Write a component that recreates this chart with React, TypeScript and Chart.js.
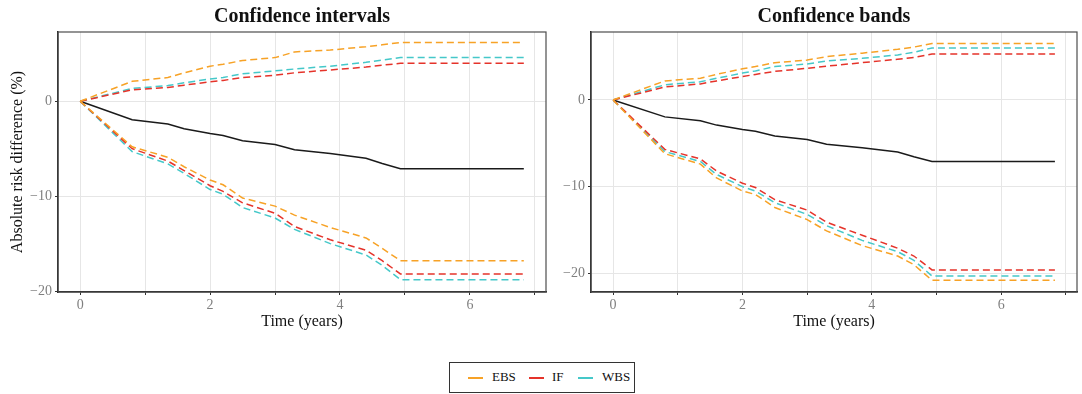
import React, { useEffect, useRef } from 'react';
import { Chart, registerables } from 'chart.js';

Chart.register(...registerables);

// ---- data ----
const times = [0, 0.8, 1.35, 1.6, 2.0, 2.2, 2.5, 3.0, 3.3, 3.85, 4.4, 4.65, 4.93, 6.83];
const estimate = [0, -1.95, -2.4, -2.9, -3.4, -3.6, -4.15, -4.55, -5.1, -5.5, -6.0, -6.55, -7.1, -7.1];

// Confidence intervals
const ciEbsUpper = [0, 2.1, 2.5, 3.0, 3.7, 3.9, 4.3, 4.6, 5.2, 5.4, 5.75, 5.95, 6.2, 6.2];
const ciWbsUpper = [0, 1.35, 1.65, 1.95, 2.35, 2.5, 2.9, 3.2, 3.4, 3.7, 4.1, 4.35, 4.6, 4.6];
const ciIfUpper = [0, 1.2, 1.45, 1.7, 2.05, 2.2, 2.5, 2.75, 3.0, 3.3, 3.6, 3.8, 4.0, 4.0];
const ciEbsLower = [0, -4.8, -5.9, -6.9, -8.3, -8.8, -10.2, -11.05, -12.0, -13.3, -14.4, -15.5, -16.8, -16.8];
const ciIfLower = [0, -5.0, -6.3, -7.3, -8.9, -9.5, -10.7, -11.8, -13.2, -14.6, -15.7, -16.8, -18.2, -18.2];
const ciWbsLower = [0, -5.3, -6.6, -7.6, -9.3, -9.8, -11.2, -12.3, -13.5, -15.0, -16.2, -17.3, -18.8, -18.8];

// Confidence bands
const cbEbsUpper = [0, 2.2, 2.5, 2.95, 3.6, 3.85, 4.3, 4.6, 5.0, 5.4, 5.85, 6.1, 6.5, 6.5];
const cbWbsUpper = [0, 1.75, 2.1, 2.5, 3.1, 3.35, 3.85, 4.15, 4.5, 4.8, 5.2, 5.5, 6.0, 6.0];
const cbIfUpper = [0, 1.5, 1.85, 2.2, 2.7, 2.95, 3.3, 3.65, 3.9, 4.3, 4.7, 4.9, 5.3, 5.3];
const cbIfLower = [0, -5.7, -6.8, -8.2, -9.6, -10.1, -11.5, -12.7, -14.1, -15.6, -17.1, -18.0, -19.6, -19.6];
const cbWbsLower = [0, -5.95, -7.1, -8.6, -10.0, -10.5, -11.85, -13.2, -14.5, -16.2, -17.5, -18.5, -20.3, -20.3];
const cbEbsLower = [0, -6.2, -7.4, -9.0, -10.5, -10.9, -12.4, -13.8, -15.1, -16.8, -18.0, -19.0, -20.8, -20.8];

const legendLabels = ['EBS', 'IF', 'WBS'];
const xTicks = [0, 1, 2, 3, 4, 5, 6, 7];
const xTickLabels = ['0', '', '2', '', '4', '', '6', ''];
const yTicks = [-20, -10, 0];
const yTickLabels = ['\u221220', '\u221210', '0'];

// ---- styling ----
const FONT = "'Liberation Serif', 'Times New Roman', serif";
const C_EBS = '#F7A226';
const C_IF = '#E5332A';
const C_WBS = '#45C8C9';
const C_EST = '#1A1A1A';
const legendColors = [C_EBS, C_IF, C_WBS];

const X_MIN = -0.3415;
const X_MAX = 7.1715;
const PLOT_BOTTOM = 292;
const CANVAS_H = 340;

const pts = (ys: number[]) => times.map((t, i) => ({ x: t, y: ys[i] }));

const dashed = (label: string, ys: number[], color: string) => ({
  label,
  data: pts(ys),
  borderColor: color,
  backgroundColor: color,
  borderWidth: 1.5,
  borderDash: [7, 4],
  pointRadius: 0,
  tension: 0,
  fill: false,
});

const borderPlugin = {
  id: 'panelBorder',
  afterDatasetsDraw(chart: any) {
    const { ctx, chartArea: a } = chart;
    ctx.save();
    ctx.strokeStyle = '#4D4D4D';
    ctx.lineWidth = 1.2;
    ctx.strokeRect(a.left, a.top, a.right - a.left, a.bottom - a.top);
    ctx.restore();
  },
};

type PanelProps = {
  left: number;
  width: number;
  title: string;
  datasets: any[];
  yMin: number;
  yMax: number;
  yAxisWidth: number;
  padRight: number;
  yTitle?: string;
};

function Panel({ left, width, title, datasets, yMin, yMax, yAxisWidth, padRight, yTitle }: PanelProps) {
  const ref = useRef<HTMLCanvasElement | null>(null);
  useEffect(() => {
    if (!ref.current) return;
    const chart = new Chart(ref.current, {
      type: 'line',
      data: {
        datasets: [
          ...datasets,
          {
            label: 'Estimate',
            data: pts(estimate),
            borderColor: C_EST,
            backgroundColor: C_EST,
            borderWidth: 1.5,
            pointRadius: 0,
            tension: 0,
            fill: false,
          },
        ],
      },
      options: {
        responsive: false,
        animation: false,
        devicePixelRatio: 1,
        layout: { padding: { left: 0, right: padRight, top: 0, bottom: 0 } },
        plugins: {
          legend: { display: false },
          tooltip: { enabled: false },
          title: {
            display: true,
            text: title,
            fullSize: false,
            color: '#111',
            font: { family: FONT, size: 20, weight: 'bold' },
            padding: { top: 5, bottom: 3 },
          },
        },
        scales: {
          x: {
            type: 'linear',
            min: X_MIN,
            max: X_MAX,
            afterBuildTicks: (s: any) => {
              s.ticks = xTicks.map((v) => ({ value: v }));
            },
            afterFit: (s: any) => {
              s.height = CANVAS_H - PLOT_BOTTOM;
            },
            ticks: {
              autoSkip: false,
              maxRotation: 0,
              color: '#7F7F7F',
              font: { family: FONT, size: 14 },
              padding: 2,
              callback: (_v: any, i: number) => xTickLabels[i],
            },
            grid: { color: '#E6E6E6', lineWidth: 1, tickLength: 3, tickColor: '#333' },
            border: { color: '#1A1A1A', width: 1.5 },
            title: {
              display: true,
              text: 'Time (years)',
              color: '#111',
              font: { family: FONT, size: 16 },
              padding: { top: 0, bottom: 8.5 },
            },
          },
          y: {
            type: 'linear',
            min: yMin,
            max: yMax,
            afterBuildTicks: (s: any) => {
              s.ticks = yTicks.map((v) => ({ value: v }));
            },
            afterFit: (s: any) => {
              s.width = yAxisWidth;
            },
            ticks: {
              autoSkip: false,
              color: '#7F7F7F',
              font: { family: FONT, size: 14 },
              padding: 3,
              callback: (_v: any, i: number) => yTickLabels[i],
            },
            grid: { color: '#E6E6E6', lineWidth: 1, tickLength: 3, tickColor: '#333' },
            border: { color: '#1A1A1A', width: 1.5 },
            title: {
              display: !!yTitle,
              text: yTitle || '',
              color: '#111',
              font: { family: FONT, size: 16 },
              padding: { top: 8, bottom: 0 },
            },
          },
        },
      } as any,
      plugins: [borderPlugin],
    });
    return () => chart.destroy();
  }, []);
  return (
    <canvas
      ref={ref}
      width={width}
      height={CANVAS_H}
      style={{ position: 'absolute', left, top: 0, width, height: CANVAS_H, display: 'block' }}
    />
  );
}

export default function App() {
  const ciSets = [
    dashed('EBS', ciEbsUpper, C_EBS),
    dashed('EBS', ciEbsLower, C_EBS),
    dashed('IF', ciIfUpper, C_IF),
    dashed('IF', ciIfLower, C_IF),
    dashed('WBS', ciWbsUpper, C_WBS),
    dashed('WBS', ciWbsLower, C_WBS),
  ];
  const cbSets = [
    dashed('EBS', cbEbsUpper, C_EBS),
    dashed('EBS', cbEbsLower, C_EBS),
    dashed('IF', cbIfUpper, C_IF),
    dashed('IF', cbIfLower, C_IF),
    dashed('WBS', cbWbsUpper, C_WBS),
    dashed('WBS', cbWbsLower, C_WBS),
  ];
  const keyLeft = [18, 79, 128];
  const textLeft = [42, 102, 152];
  return (
    <div
      style={{
        position: 'absolute',
        left: 0,
        top: 0,
        width: 1082,
        height: 394,
        background: '#fff',
        overflow: 'hidden',
      }}
    >
      <Panel
        left={0}
        width={552}
        title="Confidence intervals"
        datasets={ciSets}
        yMin={-20.1}
        yMax={7.3}
        yAxisWidth={58}
        padRight={6}
        yTitle="Absolute risk difference (%)"
      />
      <Panel
        left={552}
        width={530}
        title="Confidence bands"
        datasets={cbSets}
        yMin={-22.15}
        yMax={7.84}
        yAxisWidth={39}
        padRight={5}
      />
      <div
        style={{
          position: 'absolute',
          left: 449,
          top: 362,
          width: 186,
          height: 31,
          boxSizing: 'border-box',
          border: '1px solid #333',
          fontFamily: FONT,
          fontSize: 13,
          color: '#111',
        }}
      >
        {legendLabels.map((lab, i) => (
          <React.Fragment key={lab}>
            <span
              style={{
                position: 'absolute',
                left: keyLeft[i],
                top: 14,
                width: 15,
                height: 2,
                background: legendColors[i],
              }}
            />
            <span style={{ position: 'absolute', left: textLeft[i], top: 6, lineHeight: '16px' }}>{lab}</span>
          </React.Fragment>
        ))}
      </div>
    </div>
  );
}
